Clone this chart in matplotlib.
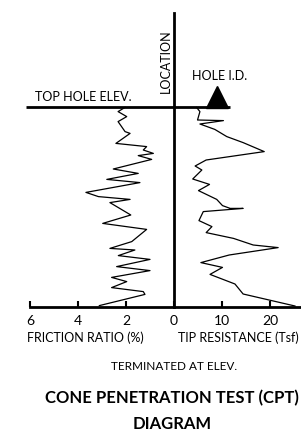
import numpy as np
import matplotlib
matplotlib.use("Agg")
import matplotlib.pyplot as plt

# depth below top of hole (0 = top, 100 = terminated)
fr_depth = [0.2, 2.3, 4.8, 7.3, 12.3, 13.2, 18.2, 19.8, 21.5, 23.2, 24.3, 26.2,
            31.0, 33.2, 36.2, 37.8, 42.7, 44.8, 46.2, 47.8, 54.0, 58.2, 61.2,
            67.3, 70.7, 71.5, 74.3, 76.2, 79.8, 81.8, 85.2, 87.3, 90.3, 92.3,
            93.7, 99.3]
friction = [2.04, 2.33, 1.97, 2.33, 2.04, 1.83, 2.42, 1.14, 1.28, 0.86, 1.49,
            0.93, 2.53, 1.49, 2.80, 1.42, 3.67, 3.15, 1.83, 2.67, 1.80, 2.97,
            1.14, 1.76, 2.67, 1.63, 2.32, 1.00, 2.39, 1.00, 2.60, 1.97, 2.60,
            1.28, 1.21, 3.11]

tr_depth = [0.2, 2.3, 6.5, 6.8, 8.5, 11.2, 14.8, 17.8, 22.3, 26.5, 29.5, 31.5,
            36.0, 38.7, 41.8, 46.2, 49.3, 50.7, 50.7, 52.3, 56.8, 59.8, 62.8,
            65.7, 69.0, 70.3, 74.0, 77.8, 80.2, 83.7, 88.5, 93.5, 99.5]
tip = [4.7, 5.4, 4.9, 10.3, 5.4, 8.5, 11.0, 14.4, 18.8, 6.7, 4.4, 5.8, 3.9,
       7.4, 5.1, 8.9, 10.1, 11.7, 14.4, 6.1, 5.2, 7.9, 6.7, 12.4, 16.5, 21.7,
       11.5, 5.6, 10.1, 7.5, 12.7, 14.4, 25.2]

fr_ticks = [6, 4, 2, 0]
tr_ticks = [10, 20]

W, H = 301, 433
plt.rcParams['font.family'] = ['Lato', 'DejaVu Sans']

fig = plt.figure(figsize=(W / 100, H / 100), dpi=100)

def px(x, y):
    return x / W, 1 - y / H

bot = (H - 307) / H
hgt = (307 - 13) / H
axl = fig.add_axes([30 / W, bot, 144 / W, hgt])
axr = fig.add_axes([174 / W, bot, 127 / W, hgt])

for ax in (axl, axr):
    ax.set_ylim(100, -47)
    ax.patch.set_alpha(0)
    for s in ('top', 'right', 'left'):
        ax.spines[s].set_visible(False)
    ax.spines['bottom'].set_linewidth(2)
    ax.set_yticks([])
    ax.tick_params(axis='x', direction='in', length=4, width=1.5,
                   pad=6, labelsize=10)

axl.set_xlim(6, 0)
axl.set_xticks(fr_ticks)
axl.set_xticklabels([str(t) for t in fr_ticks])
axr.set_xlim(0, 127 / 4.8)
axr.set_xticks(tr_ticks)
axr.set_xticklabels([str(t) for t in tr_ticks])
axr.spines['left'].set_visible(True)
axr.spines['left'].set_linewidth(2)

axl.plot(friction, fr_depth, color='black', lw=0.9)
axr.plot(tip, tr_depth, color='black', lw=0.9)

# top of hole line
axl.plot([6.17, 0], [0, 0], color='black', lw=2, clip_on=False,
         solid_capstyle='butt')
axr.plot([0, 11.67], [0, 0], color='black', lw=2, clip_on=False,
         solid_capstyle='butt')
axr.plot([9.06], [-5.2], marker='^', color='black', markersize=16,
         clip_on=False)

fs = 9
fig.text(*px(83, 97), 'TOP HOLE ELEV.', fontsize=fs, ha='center', va='center')
fig.text(*px(166, 61), 'LOCATION', fontsize=fs, rotation=90,
         ha='center', va='center')
fig.text(*px(219.5, 76.5), 'HOLE I.D.', fontsize=fs, ha='center', va='center')
fig.text(*px(85, 338), 'FRICTION RATIO (%)', fontsize=fs, ha='center', va='center')
fig.text(*px(238, 338), 'TIP RESISTANCE (Tsf)', fontsize=fs, ha='center', va='center')
fig.text(*px(174, 367), 'TERMINATED AT ELEV.', fontsize=8.5, ha='center', va='center')
fig.text(*px(172, 398.5), 'CONE PENETRATION TEST (CPT)', fontsize=12,
         fontweight='bold', ha='center', va='center')
fig.text(*px(172, 424), 'DIAGRAM', fontsize=12, fontweight='bold',
         ha='center', va='center')

fig.savefig('out.png', dpi=100)
